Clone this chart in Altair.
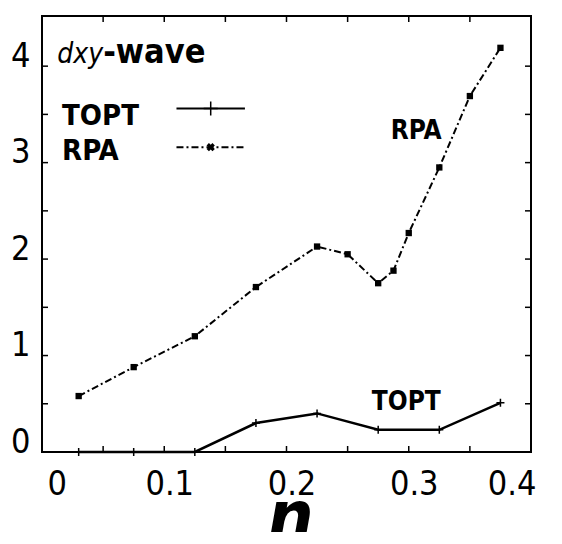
import altair as alt
import pandas as pd

# ---- data ----
rpa_n = [0.03, 0.075, 0.125, 0.175, 0.225, 0.25, 0.275, 0.2875, 0.3, 0.325, 0.35, 0.375]
rpa_v = [0.58, 0.88, 1.20, 1.71, 2.13, 2.05, 1.75, 1.88, 2.27, 2.95, 3.69, 4.19]
topt_n = [0.03, 0.075, 0.125, 0.175, 0.225, 0.275, 0.325, 0.375]
topt_v = [0.0, 0.0, 0.0, 0.30, 0.40, 0.23, 0.23, 0.51]

x_labels = [0, 0.1, 0.2, 0.3, 0.4]
y_labels = [0, 1, 2, 3, 4]
x_ticks = [0.05, 0.1, 0.15, 0.2, 0.25, 0.3, 0.35]
y_ticks = [0.5, 1.0, 1.5, 2.0, 2.5, 3.0, 3.5, 4.0]

# annotation / legend anchor positions (data units)
title_n, title_v = 0.050, 4.03
leg_text_n = 0.0164
leg_topt_v, leg_rpa_v = 3.39, 3.03
leg_line_n = [0.110, 0.166]
leg_mark_n = 0.138
leg_topt_line_v, leg_rpa_line_v = 3.56, 3.16
ann_rpa = (0.306, 3.25)
ann_topt = (0.298, 0.435)

W, H = 489, 436
FONT = "'DejaVu Sans Condensed', 'Liberation Sans', Arial, sans-serif"

xs = alt.Scale(domain=[0, 0.4], nice=False, zero=False)
ys = alt.Scale(domain=[0, 4.52], nice=False, zero=False)

rpa_df = pd.DataFrame({"n": rpa_n, "v": rpa_v})
topt_df = pd.DataFrame({"n": topt_n, "v": topt_v})

xaxis = alt.Axis(values=x_labels,
                 labelExpr="datum.value == 0 ? '0' : format(datum.value, '.1f')",
                 domain=False, ticks=False, grid=False,
                 labelFont=FONT, labelFontSize=34, labelColor="black",
                 labelPadding=42, labelBaseline="alphabetic", labelOffset=5,
                 title="n", titleFont=FONT, titleFontSize=72, titleFontStyle="italic",
                 titleFontWeight="bold", titleColor="black", titleAlign="center",
                 titleBaseline="alphabetic", titleY=88, titleX=248)
yaxis = alt.Axis(values=y_labels, format="d", domain=False, ticks=False, grid=False,
                 labelFont=FONT, labelFontSize=34, labelColor="black",
                 labelPadding=12, labelBaseline="alphabetic", title=None)

X = lambda: alt.X("n:Q", scale=xs, axis=xaxis)
Y = lambda: alt.Y("v:Q", scale=ys, axis=yaxis)

rpa_line = alt.Chart(rpa_df).mark_line(color="black", strokeWidth=2,
                                        strokeDash=[7, 3, 2, 3]).encode(x=X(), y=Y())
rpa_pts = alt.Chart(rpa_df).mark_point(shape="square", filled=True, size=40,
                                        color="black", opacity=1).encode(x=X(), y=Y())
topt_line = alt.Chart(topt_df).mark_line(color="black", strokeWidth=2.5).encode(x=X(), y=Y())
PLUS = "M-1,0L1,0M0,-1L0,1"
topt_pts = alt.Chart(topt_df).mark_point(shape=PLUS, filled=False, size=64,
                                          color="black", strokeWidth=1.5,
                                          opacity=1).encode(x=X(), y=Y())

xt_df = pd.DataFrame({"n": x_ticks})
yt_df = pd.DataFrame({"v": y_ticks})
tick_b = alt.Chart(xt_df).mark_rule(color="black", strokeWidth=1.5).encode(
    x=X(), y=alt.value(H), y2=alt.value(H - 6))
tick_t = alt.Chart(xt_df).mark_rule(color="black", strokeWidth=1.5).encode(
    x=X(), y=alt.value(0), y2=alt.value(6))
tick_l = alt.Chart(yt_df).mark_rule(color="black", strokeWidth=1.5).encode(
    y=Y(), x=alt.value(0), x2=alt.value(6))
tick_r = alt.Chart(yt_df).mark_rule(color="black", strokeWidth=1.5).encode(
    y=Y(), x=alt.value(W), x2=alt.value(W - 6))


def txt(label, n, v, size, align, weight="bold", style="normal"):
    df = pd.DataFrame({"n": [n], "v": [v], "t": [label]})
    return alt.Chart(df).mark_text(font=FONT, fontSize=size, fontWeight=weight,
                                   fontStyle=style, align=align, baseline="alphabetic",
                                   color="black").encode(x=X(), y=Y(), text="t:N")


t_dxy = txt("dxy", title_n, title_v, 28, "right", weight="normal", style="italic")
t_wave = txt("-wave", title_n, title_v, 34, "left")
t_leg1 = txt("TOPT", leg_text_n, leg_topt_v, 29, "left")
t_leg2 = txt("RPA", leg_text_n, leg_rpa_v, 29, "left")
t_a1 = txt("RPA", ann_rpa[0], ann_rpa[1], 26, "center")
t_a2 = txt("TOPT", ann_topt[0], ann_topt[1], 26, "center")

leg_df = pd.DataFrame({"n": [leg_line_n[0]], "n2": [leg_line_n[1]],
                       "v": [leg_topt_line_v]})
leg_df2 = pd.DataFrame({"n": [leg_line_n[0]], "n2": [leg_line_n[1]],
                        "v": [leg_rpa_line_v]})
leg_l1 = alt.Chart(leg_df).mark_rule(color="black", strokeWidth=2).encode(
    x=X(), x2="n2:Q", y=Y())
leg_l2 = alt.Chart(leg_df2).mark_rule(color="black", strokeWidth=2,
                                       strokeDash=[7, 3, 2, 3]).encode(
    x=X(), x2="n2:Q", y=Y())
leg_m1 = alt.Chart(pd.DataFrame({"n": [leg_mark_n], "v": [leg_topt_line_v]})).mark_point(
    shape=PLUS, filled=False, size=196, color="black", strokeWidth=1.5, opacity=1).encode(
    x=X(), y=Y())
leg_m2 = alt.Chart(pd.DataFrame({"n": [leg_mark_n], "v": [leg_rpa_line_v]})).mark_point(
    shape="cross", angle=45, filled=True, size=70, color="black", opacity=1).encode(
    x=X(), y=Y())

chart = alt.layer(
    rpa_line, rpa_pts, topt_line, topt_pts,
    tick_b, tick_t, tick_l, tick_r,
    t_dxy, t_wave, t_leg1, t_leg2, t_a1, t_a2,
    leg_l1, leg_l2, leg_m1, leg_m2,
).properties(
    width=W, height=H,
    autosize=alt.AutoSizeParams(type="none"),
    padding={"left": 34, "top": 8, "right": 20, "bottom": 80},
    background="white",
).configure_view(stroke="black", strokeWidth=2)

chart.save("out.html", embed_options={"renderer": "svg", "actions": False})
